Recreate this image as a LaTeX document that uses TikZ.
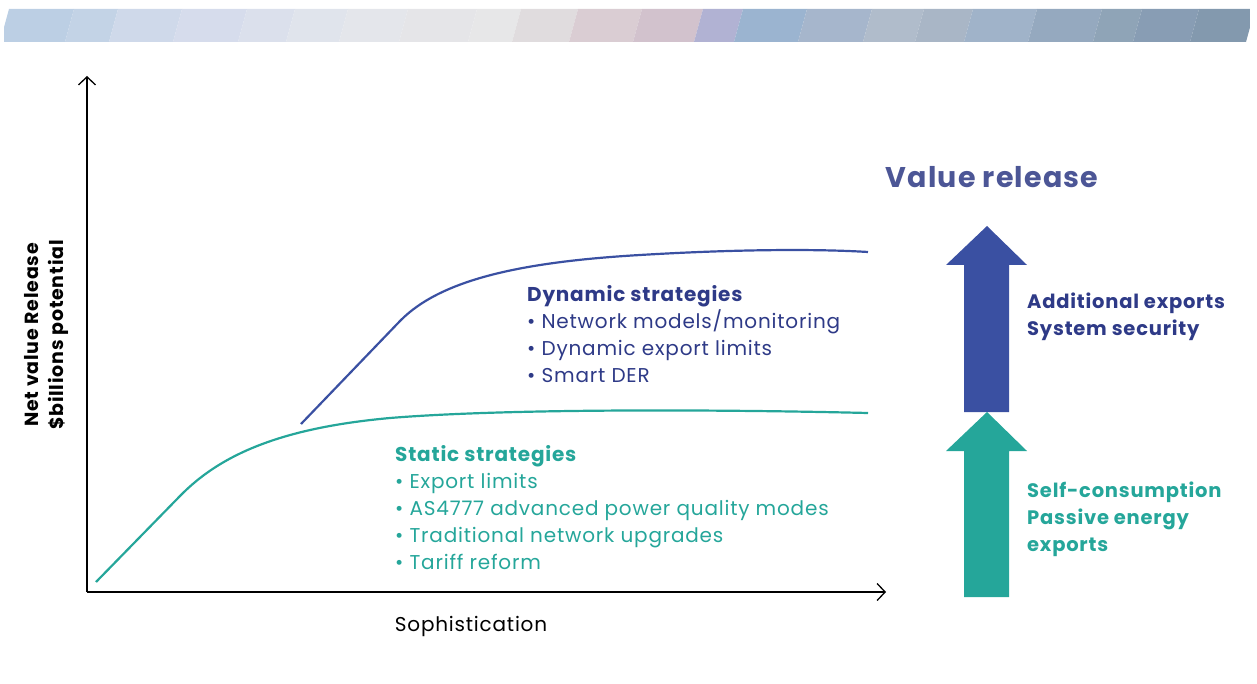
\documentclass[tikz,border=0pt]{standalone}
\usepackage{fontspec}
\setmainfont[LetterSpace=4]{Poppins}
\usepackage{tikz}
\usetikzlibrary{positioning,arrows.meta}

\definecolor{dynblue}{HTML}{3A50A2}
\definecolor{dyntext}{HTML}{2E3A87}
\definecolor{statteal}{HTML}{25A69A}
\definecolor{valtext}{HTML}{4C5696}

\begin{document}
\begin{tikzpicture}[x=1pt,y=-1pt,
axis/.style={line width=1.3pt, -{Straight Barb[length=8pt,width=17pt]}},
curve/.style={line width=2.2pt},
list/.style={anchor=north west, align=left, inner sep=0pt, font=\fontsize{20}{27}\selectfont},
side/.style={anchor=north west, align=left, inner sep=0pt, font=\fontsize{19.5}{27}\selectfont\bfseries},
]
\useasboundingbox (0,0) rectangle (1257,684);

% banner of tiles along the top
\foreach \xa/\xb/\c in {4/69/BCCFE4, 69/113/C3D3E6, 113/177/CFD9EA, 177/242/D6DCEC, 242/290/DBE0EC, 290/343/E0E4EC, 343/403/E4E6EB, 403/472/E5E5E8, 472/516/E7E7E8, 516/573/E0DCDE, 573/637/DACDD3, 637/698/D2C2CD, 698/738/B1B2D3, 738/802/9BB4D0, 802/867/A6B6CC, 867/919/B0BCCB, 919/968/A9B6C6, 968/1032/A0B3C9, 1032/1097/95A9BF, 1097/1137/8FA4B7, 1137/1194/889DB4, 1194/1250/8399AE}{
  \definecolor{tilec}{HTML}{\c}
  \fill[tilec] (\xa+5,9) -- (\xb+5,9) -- (\xb-4,42) -- (\xa-4,42) -- cycle;
}
\fill[white] (0,0) rectangle (4,50);
\fill[white] (1250,0) rectangle (1257,50);

% axes
\coordinate (origin) at (87,592);
\coordinate (ytop) at (87,76);
\coordinate (xend) at (886,592);
\draw[axis] (origin) -- (ytop);
\draw[axis] (origin) -- (xend);

\node[rotate=90, align=center, font=\fontsize{19}{25}\selectfont\bfseries] (ylabel) at (46,335) {Net value Release\\\$billions potential};
\node[font=\fontsize{20}{22}\selectfont] (xlabel) at (471,626) {Sophistication};

% static curve
\draw[curve, statteal] (96,582) -- (180,496) .. controls (220,455) and (280,428) .. (390,418) .. controls (500,409) and (700,409) .. (868,413);
% dynamic curve
\draw[curve, dynblue] (301,424) -- (400,321) .. controls (440,280) and (520,262) .. (640,255) .. controls (740,249) and (820,249) .. (868,252);

% strategy lists
\node[list, text=dyntext] (dynamic) at (527,285) {\textbf{Dynamic strategies}\\
  \textbullet\ Network models/monitoring\\
  \textbullet\ Dynamic export limits\\
  \textbullet\ Smart DER};
\node[list, text=statteal] (static) at (395,445) {\textbf{Static strategies}\\
  \textbullet\ Export limits\\
  \textbullet\ AS4777 advanced power quality modes\\
  \textbullet\ Traditional network upgrades\\
  \textbullet\ Tariff reform};

% value release arrows
\node[font=\fontsize{28.5}{36}\selectfont\bfseries, text=valtext] (value) at (992,177) {Value release};
\fill[dynblue] (964,412) -- (964,265) -- (946,265) -- (987,226) -- (1027,265) -- (1009,265) -- (1009,412) -- cycle;
\fill[statteal] (964,597) -- (964,451) -- (946,451) -- (987,412) -- (1027,451) -- (1009,451) -- (1009,597) -- cycle;
\node[side, text=dyntext] (upper) at (1027,293) {Additional exports\\System security};
\node[side, text=statteal] (lower) at (1027,482) {Self-consumption\\Passive energy\\exports};
\end{tikzpicture}
\end{document}
